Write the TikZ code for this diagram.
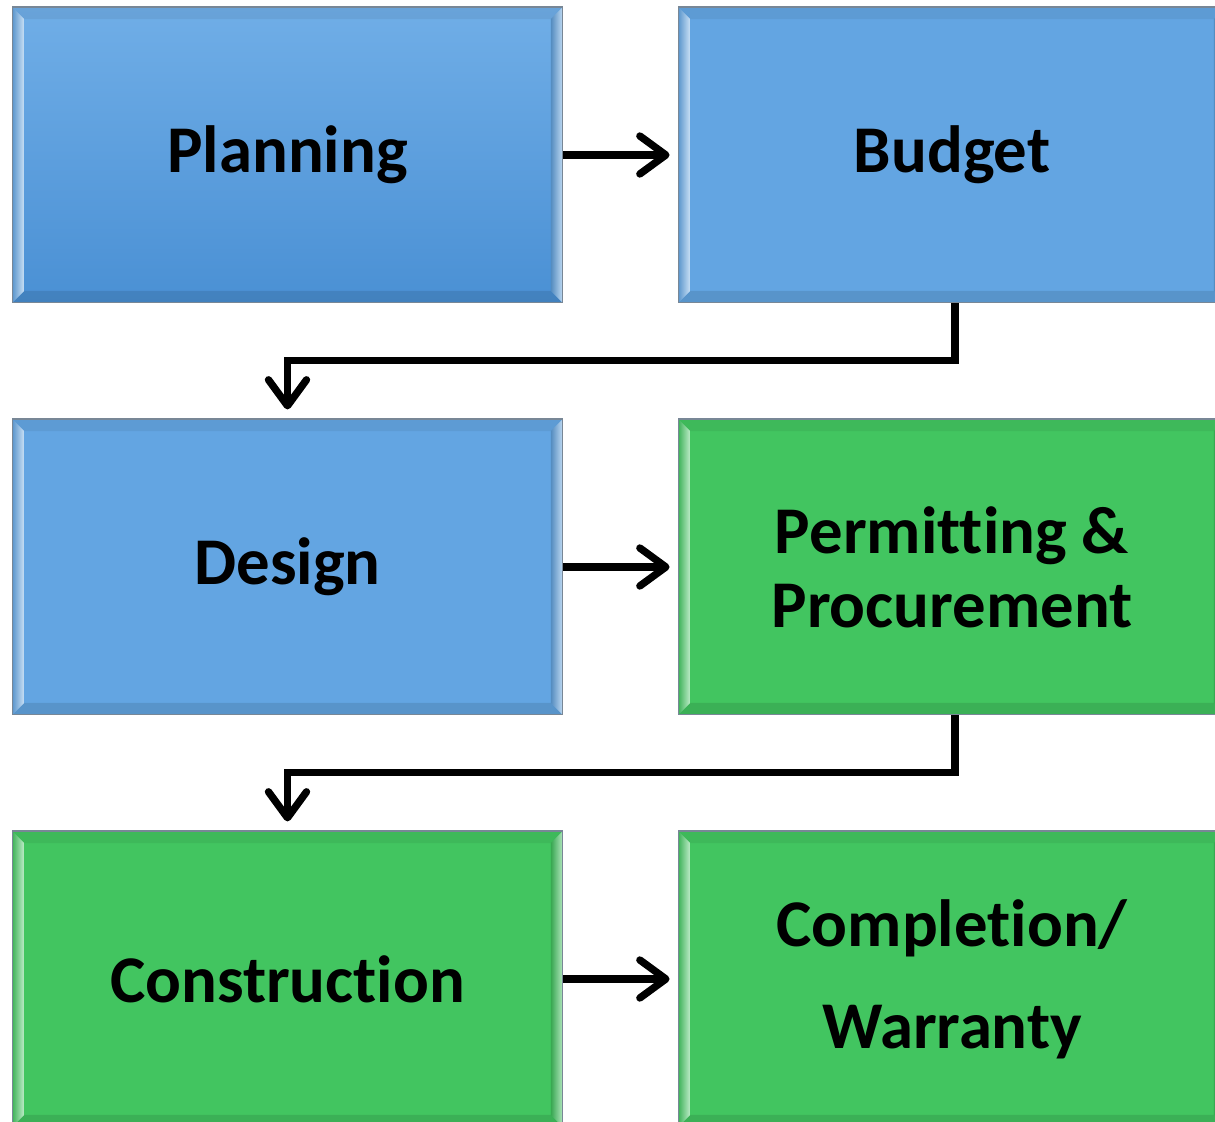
\documentclass[tikz,border=0pt]{standalone}
\usepackage{fontspec}
\setmainfont{Carlito}[Ligatures=NoCommon]
\usetikzlibrary{arrows.meta}

\definecolor{stageblue}{RGB}{99,165,226}
\definecolor{stagegreen}{RGB}{66,197,96}
\definecolor{plantop}{RGB}{112,174,231}
\definecolor{planbot}{RGB}{74,144,212}
\definecolor{rimgray}{RGB}{120,135,150}

\begin{document}
\begin{tikzpicture}[x=0.02cm,y=0.02cm,
    bevel/.style={path picture={
      \coordinate (bnw) at (path picture bounding box.north west);
      \coordinate (bse) at (path picture bounding box.south east);
      \fill[black,opacity=.06] (bnw) -- (bnw -| bse) -- ++(-0.24cm,-0.24cm) -- ([shift={(0.24cm,-0.24cm)}]bnw) -- cycle;
      \fill[black,opacity=.10] (bse) -- (bse -| bnw) -- ++(0.24cm,0.24cm) -- ([shift={(-0.24cm,0.24cm)}]bse) -- cycle;
      \shade[left color=#1!90!black, right color=#1!35!white] (bnw) -- ([shift={(0.24cm,-0.24cm)}]bnw) -- ([shift={(0.24cm,0.24cm)}]bnw |- bse) -- (bnw |- bse) -- cycle;
      \shade[left color=#1!85!black, right color=#1!40!white] (bse) -- ([shift={(-0.24cm,0.24cm)}]bse) -- ([shift={(-0.24cm,-0.24cm)}]bse |- bnw) -- (bse |- bnw) -- cycle;
    }},
    stage/.style={draw=rimgray,line width=0.6pt,fill=#1,bevel=#1,
      minimum width=11.02cm,minimum height=5.92cm,inner sep=0pt,
      align=center,font=\fontsize{38}{42}\selectfont\bfseries},
    flow/.style={line width=4.2pt,
      -{Straight Barb[length=0.52cm,width=0.76cm,line cap=round,line join=round]}}]

  \clip (0,0) rectangle (1215,1122);

  \node [stage=stageblue,top color=plantop,bottom color=planbot] (plan) at (287.5,967) {Planning};
  \node [stage=stageblue,minimum width=10.96cm] (budget) at (952,967) {Budget};
  \node [stage=stageblue] (design) at (287.5,555) {Design};
  \node [stage=stagegreen,minimum width=10.96cm] (permit) at (952,555) {Permitting \&\\Procurement};
  \node [stage=stagegreen] (build) at (287.5,143) {Construction};
  \node [stage=stagegreen,minimum width=10.96cm] (finish) at (952,143) {Completion/\\[16pt]Warranty};

  \draw [flow,shorten >=0.16cm] (plan) -- (budget);
  \draw [flow,shorten >=0.16cm] (design) -- (permit);
  \draw [flow,shorten >=0.16cm] (build) -- (finish);

  \draw [flow,shorten >=0.18cm] ([xshift=0.06cm]budget.south) -- ++(0,-57) -| (design.north);
  \draw [flow,shorten >=0.18cm] ([xshift=0.06cm]permit.south) -- ++(0,-57) -| (build.north);

\end{tikzpicture}
\end{document}
